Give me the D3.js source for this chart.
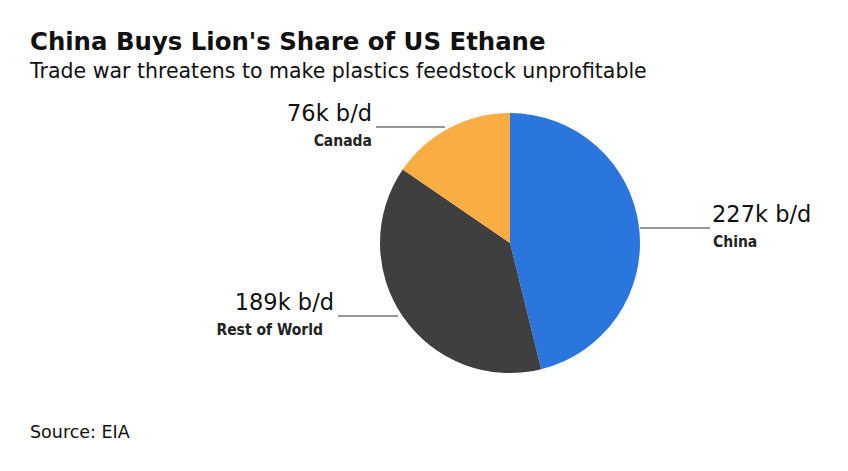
<!DOCTYPE html>
<html lang="en">
<head>
<meta charset="utf-8">
<script src="https://cdn.jsdelivr.net/npm/d3@7"></script>
<style>
  body { margin: 0; background: #fff; }
  text { font-family: "DejaVu Sans", sans-serif; fill: #111; }
  .narrow { font-family: "DejaVu Sans Condensed", "DejaVu Sans", sans-serif; font-weight: bold; fill: #222; }
</style>
</head>
<body>
<script>
var categories = ["China", "Rest of World", "Canada"];
var values = [227, 189, 76];
var valueLabels = ["227k b/d", "189k b/d", "76k b/d"];
var colors = ["#2a76dd", "#3f3f3f", "#f9ad42"];

var w = 848, h = 471;
var svg = d3.select("body").append("svg").attr("width", w).attr("height", h);

svg.append("text").attr("x", 30).attr("y", 50)
    .attr("font-size", "24.4px").attr("font-weight", "bold").text("China Buys Lion's Share of US Ethane");
svg.append("text").attr("x", 30).attr("y", 78)
    .attr("font-size", "20.5px").text("Trade war threatens to make plastics feedstock unprofitable");
svg.append("text").attr("x", 30).attr("y", 438)
    .attr("font-size", "17.5px").text("Source: EIA");

var cx = 510, cy = 243, r = 130;
var pie = d3.pie().sort(null)(values);
var arc = d3.arc().innerRadius(0).outerRadius(r);
var g = svg.append("g").attr("transform", "translate(" + cx + "," + cy + ")");
g.selectAll("path").data(pie).enter().append("path")
    .attr("d", arc)
    .attr("fill", function(d, i) { return colors[i]; });

var labels = [
    { x1: 640, x2: 710, y: 228, tx: 712, cx: 713, anchor: "start" },
    { x1: 398, x2: 338, y: 316, tx: 334, cx: 323, anchor: "end" },
    { x1: 445, x2: 376, y: 127, tx: 372, cx: 372, anchor: "end" }
];
labels.forEach(function(l, i) {
    svg.append("line").attr("x1", l.x1).attr("x2", l.x2).attr("y1", l.y).attr("y2", l.y)
        .attr("stroke", "#333").attr("stroke-width", 1);
    svg.append("text").attr("x", l.tx).attr("y", l.y - 6).attr("text-anchor", l.anchor)
        .attr("font-size", "22.5px").text(valueLabels[i]);
    svg.append("text").attr("class", "narrow").attr("x", l.cx).attr("y", l.y + 19).attr("text-anchor", l.anchor)
        .attr("font-size", "15.5px").attr("font-weight", "600").text(categories[i]);
});
</script>
</body>
</html>
